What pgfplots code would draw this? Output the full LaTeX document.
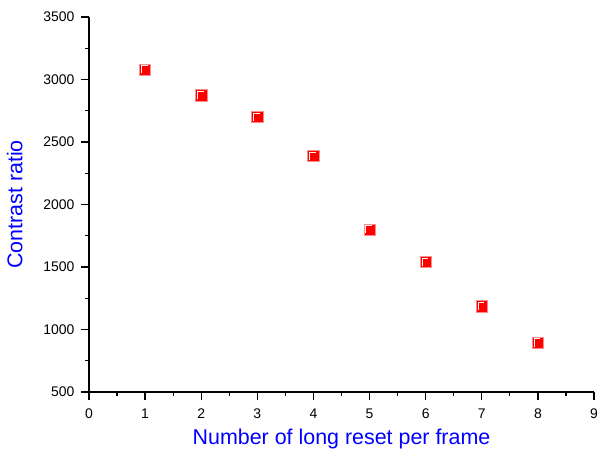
\documentclass[border=0pt]{standalone}
\usepackage{pgfplots}
\pgfplotsset{compat=1.18}
\usepackage{fontspec}
\setmainfont{Liberation Sans}

\pgfdeclareplotmark{osq}{%
  \pgfsetfillcolor{red}\pgfsetstrokecolor{red!45}\pgfsetlinewidth{0.6pt}%
  \pgfpathrectangle{\pgfpoint{-5.7pt}{-5.7pt}}{\pgfpoint{11.4pt}{11.4pt}}%
  \pgfusepath{fill,stroke}%
  \pgfsetstrokecolor{white}\pgfsetlinewidth{0.9pt}%
  \pgfpathmoveto{\pgfpoint{-3.7pt}{-3.9pt}}%
  \pgfpathlineto{\pgfpoint{-3.7pt}{3.7pt}}%
  \pgfpathlineto{\pgfpoint{2.6pt}{3.7pt}}%
  \pgfusepath{stroke}%
}

\begin{document}
\begin{tikzpicture}
\begin{axis}[
  scale only axis,
  width=505bp, height=375bp,
  xmin=0, xmax=9, ymin=500, ymax=3500,
  axis lines*=left,
  axis line style={line width=1.6pt, -},
  xtick={0,1,...,9}, minor xtick={0.5,1.5,...,8.5},
  ytick={500,1000,...,3500}, minor ytick={750,1250,...,3250},
  tick align=outside,
  major tick length=8bp, minor tick length=4bp,
  every tick/.style={black, line width=1.3pt},
  tick label style={font=\fontsize{14}{16}\selectfont},
  /pgf/number format/assume math mode=true,
  /pgf/number format/1000 sep={},
  xticklabel style={yshift=-5bp},
  yticklabel style={xshift=-3bp},
  xlabel={Number of long reset per frame},
  ylabel={Contrast ratio},
  label style={font=\fontsize{21.5}{25}\selectfont, text=blue},
  xlabel style={yshift=-4bp},
  ylabel style={yshift=14bp},
  clip=false,
]
\addplot[only marks, mark=osq] coordinates {
  (1,3080)(2,2875)(3,2700)(4,2390)(5,1800)(6,1540)(7,1185)(8,895)
};
\path (rel axis cs:0,0) ++(-89bp,-62bp) coordinate (bl);
\path (rel axis cs:1,1) ++(3bp,17bp) coordinate (tr);
\end{axis}
\pgfresetboundingbox
\path[use as bounding box] (bl) rectangle (tr);
\end{tikzpicture}
\end{document}
